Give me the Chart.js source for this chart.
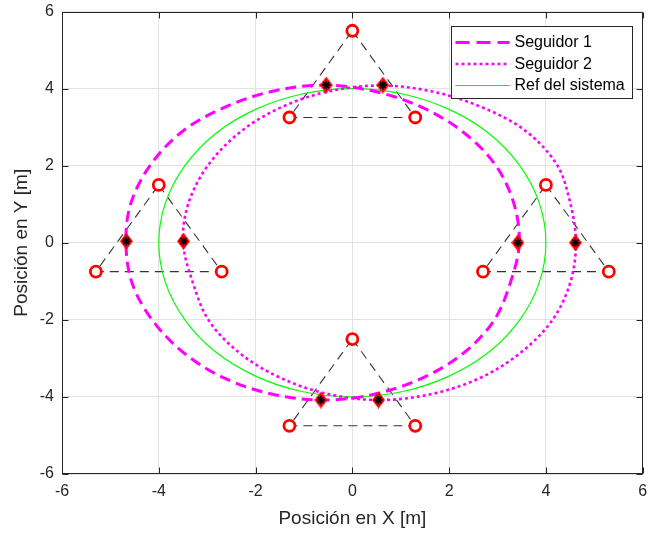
<!DOCTYPE html>
<html>
<head>
<meta charset="utf-8">
<script src="https://cdn.jsdelivr.net/npm/chart.js@4.4.0/dist/chart.umd.min.js"></script>
<style>
  html, body { margin: 0; padding: 0; background: #fff; }
  #wrap { width: 651px; height: 534px; }
</style>
</head>
<body>
<div id="wrap"><canvas id="grafico"></canvas></div>
<script>
// valores
const ticksXY = [-6, -4, -2, 0, 2, 4, 6];

// Ref del sistema (curva cerrada, el último punto se une con el primero)
const refX = [4, 3.86, 3.46, 2.83, 2, 1.04, 0, -1.04, -2, -2.83, -3.46, -3.86, -4, -3.86, -3.46, -2.83, -2, -1.04, 0, 1.04, 2, 2.83, 3.46, 3.86];
const refY = [0, 1.04, 2, 2.83, 3.46, 3.86, 4, 3.86, 3.46, 2.83, 2, 1.04, 0, -1.04, -2, -2.83, -3.46, -3.86, -4, -3.86, -3.46, -2.83, -2, -1.04];

// Seguidor 1
const seg1X = [3.45, 3.33, 2.95, 2.28, 1.43, 0.45, -0.6, -1.65, -2.63, -3.5, -4.16, -4.57, -4.68, -4.55, -4.12, -3.46, -2.63, -1.65, -0.6, 0.45, 1.43, 2.28, 2.92, 3.27];
const seg1Y = [0, 1.05, 2.03, 2.88, 3.52, 3.93, 4.09, 3.93, 3.52, 2.9, 2.04, 1.05, 0.04, -1.05, -2.03, -2.88, -3.52, -3.93, -4.08, -3.93, -3.52, -2.88, -2.03, -1.02];

// Seguidor 2
const seg2X = [4.62, 4.5, 4.22, 3.55, 2.65, 1.63, 0.57, -0.48, -1.46, -2.31, -2.97, -3.38, -3.5, -3.3, -2.96, -2.31, -1.46, -0.48, 0.57, 1.62, 2.62, 3.45, 4.12, 4.5];
const seg2Y = [0, 1.05, 2.04, 2.93, 3.53, 3.93, 4.08, 3.93, 3.52, 2.88, 2.03, 1.05, 0.04, -1.02, -2.03, -2.88, -3.52, -3.93, -4.08, -3.93, -3.52, -2.88, -2.03, -1.05];

// triángulos (vértice superior, base derecha, base izquierda)
const triSup = [[0, 5.5], [1.3, 3.25], [-1.3, 3.25], [0, 5.5]];
const triIzq = [[-4, 1.5], [-2.7, -0.75], [-5.3, -0.75], [-4, 1.5]];
const triDer = [[4, 1.5], [5.3, -0.75], [2.7, -0.75], [4, 1.5]];
const triInf = [[0, -2.5], [1.3, -4.75], [-1.3, -4.75], [0, -2.5]];

// robots (rombos con asterisco)
const robotsX = [-0.54, 0.63, -4.67, -3.49, 3.42, 4.61, -0.65, 0.54];
const robotsY = [4.09, 4.09, 0.04, 0.04, 0, 0, -4.08, -4.08];

const fuente = '"Liberation Sans", Arial, Helvetica, sans-serif';
const gris = '#262626';

function puntos(xs, ys) {
  return xs.map(function (x, i) { return { x: x, y: ys[i] }; });
}

function vertices(tri) {
  return tri.map(function (p) { return { x: p[0], y: p[1] }; });
}

// rombo rojo de MATLAB (más alto que ancho)
const rombo = document.createElement('canvas');
rombo.width = 13;
rombo.height = 17;
(function () {
  const c = rombo.getContext('2d');
  c.fillStyle = '#ff0000';
  c.beginPath();
  c.moveTo(6.5, 0);
  c.lineTo(13, 8.5);
  c.lineTo(6.5, 17);
  c.lineTo(0, 8.5);
  c.closePath();
  c.fill();
})();

var datasets = [
  {
    label: 'Seguidor 1',
    data: puntos(seg1X, seg1Y),
    cerrada: true,
    showLine: true,
    borderColor: '#ff00ff',
    borderWidth: 3,
    borderDash: [11, 6],
    tension: 0.34,
    pointRadius: 0,
    order: 2
  },
  {
    label: 'Seguidor 2',
    data: puntos(seg2X, seg2Y),
    cerrada: true,
    showLine: true,
    borderColor: '#ff00ff',
    borderWidth: 2.6,
    borderDash: [3, 3],
    tension: 0.34,
    pointRadius: 0,
    order: 2
  },
  {
    label: 'Ref del sistema',
    data: puntos(refX, refY),
    cerrada: true,
    showLine: true,
    borderColor: '#00ff00',
    borderWidth: 1.2,
    tension: 0.34,
    pointRadius: 0,
    order: 2
  }
];

[triSup, triIzq, triDer, triInf].forEach(function (tri) {
  datasets.push({
    label: '',
    data: vertices(tri),
    showLine: true,
    borderColor: '#333333',
    borderWidth: 1.1,
    borderDash: [9, 6],
    tension: 0,
    pointRadius: 0,
    order: 3
  });
});

// vértices (círculos rojos)
datasets.push({
  label: '',
  data: [].concat(vertices(triSup.slice(0, 3)), vertices(triIzq.slice(0, 3)), vertices(triDer.slice(0, 3)), vertices(triInf.slice(0, 3))),
  showLine: false,
  pointStyle: 'circle',
  pointRadius: 5.5,
  pointBorderWidth: 2.8,
  pointBorderColor: '#ff0000',
  pointBackgroundColor: '#ffffff',
  order: 1
});

datasets.push({
  label: '',
  data: puntos(robotsX, robotsY),
  showLine: false,
  pointStyle: rombo,
  order: 1
});

datasets.push({
  label: '',
  data: puntos(robotsX, robotsY),
  showLine: false,
  pointStyle: 'star',
  pointRadius: 4.2,
  pointBorderWidth: 1.6,
  pointBorderColor: '#000000',
  order: 0
});

// cierra las curvas de trayectoria
const cierre = {
  id: 'cierre',
  beforeDatasetDraw: function (chart, args) {
    const ds = chart.data.datasets[args.index];
    const line = args.meta.dataset;
    if (!ds.cerrada || !line) return;
    line._loop = true;
    line._fullLoop = true;
    line._pointsUpdated = false;
    line._path = undefined;
    line._segments = undefined;
    line.updateControlPoints(chart.chartArea, 'x');
  }
};

// caja de ejes con marcas hacia dentro
const marco = {
  id: 'marco',
  afterDatasetsDraw: function (chart) {
    const ctx = chart.ctx;
    const a = chart.chartArea;
    const sx = chart.scales.x, sy = chart.scales.y;
    const l = Math.round(a.left) + 0.5, r = Math.round(a.right) - 0.5;
    const t = Math.round(a.top) + 0.5, b = Math.round(a.bottom) - 0.5;
    ctx.save();
    ctx.strokeStyle = gris;
    ctx.lineWidth = 1;
    ctx.beginPath();
    ticksXY.forEach(function (v) {
      const px = Math.round(sx.getPixelForValue(v)) + 0.5;
      ctx.moveTo(px, b); ctx.lineTo(px, b - 6);
      ctx.moveTo(px, t); ctx.lineTo(px, t + 6);
      const py = Math.round(sy.getPixelForValue(v)) + 0.5;
      ctx.moveTo(l, py); ctx.lineTo(l + 6, py);
      ctx.moveTo(r, py); ctx.lineTo(r - 6, py);
    });
    ctx.stroke();
    ctx.strokeRect(l, t, r - l, b - t);
    ctx.restore();
  }
};

// leyenda con recuadro dentro del área
const leyenda = {
  id: 'leyenda',
  afterDraw: function (chart) {
    const ctx = chart.ctx;
    const a = chart.chartArea;
    const w = 181, h = 72;
    const x0 = Math.round(a.right - 11 - w) + 0.5;
    const y0 = Math.round(a.top + 14) + 0.5;
    ctx.save();
    ctx.fillStyle = '#ffffff';
    ctx.fillRect(x0, y0, w, h);
    ctx.strokeStyle = gris;
    ctx.lineWidth = 1;
    ctx.strokeRect(x0, y0, w, h);
    chart.data.datasets.slice(0, 3).forEach(function (d, i) {
      const y = y0 + 16 + i * 21.5;
      ctx.beginPath();
      ctx.setLineDash(i === 0 ? [14, 7] : (d.borderDash || []));
      ctx.strokeStyle = d.borderColor;
      ctx.lineWidth = d.borderWidth;
      ctx.moveTo(x0 + 4, y);
      ctx.lineTo(x0 + 58, y);
      ctx.stroke();
      ctx.setLineDash([]);
      ctx.fillStyle = '#000000';
      ctx.font = '16px ' + fuente;
      ctx.textBaseline = 'middle';
      ctx.fillText(d.label, x0 + 63, y + 0.5);
    });
    ctx.restore();
  }
};

var ctx = document.getElementById('grafico');
var grafico = new Chart(ctx, {
  type: 'scatter',
  data: { datasets: datasets },
  plugins: [cierre, marco, leyenda],
  options: {
    responsive: true,
    maintainAspectRatio: false,
    animation: false,
    layout: { padding: { top: 11.5, right: 4, left: 0, bottom: 0 } },
    plugins: {
      legend: { display: false },
      tooltip: { enabled: false }
    },
    scales: {
      x: {
        type: 'linear',
        min: -6,
        max: 6,
        afterBuildTicks: function (s) { s.ticks = ticksXY.map(function (v) { return { value: v }; }); },
        ticks: { padding: 8, color: gris, font: { family: fuente, size: 16 } },
        grid: { color: '#e3e3e3', drawTicks: false },
        border: { display: false },
        title: {
          display: true,
          text: 'Posición en X [m]',
          color: gris,
          font: { family: fuente, size: 19 },
          padding: { top: 0, bottom: 4 }
        },
        afterFit: function (s) { s.height = 60; s.paddingLeft = 0; s.paddingRight = 0; }
      },
      y: {
        type: 'linear',
        min: -6,
        max: 6,
        afterBuildTicks: function (s) { s.ticks = ticksXY.map(function (v) { return { value: v }; }); },
        ticks: { padding: 8, color: gris, font: { family: fuente, size: 16 } },
        grid: { color: '#e3e3e3', drawTicks: false },
        border: { display: false },
        title: {
          display: true,
          text: 'Posición en Y [m]',
          color: gris,
          font: { family: fuente, size: 19 },
          padding: { top: 10.5, bottom: 0 }
        },
        afterFit: function (s) { s.width = 62; s.paddingTop = 0; s.paddingBottom = 0; }
      }
    }
  }
});
</script>
</body>
</html>
